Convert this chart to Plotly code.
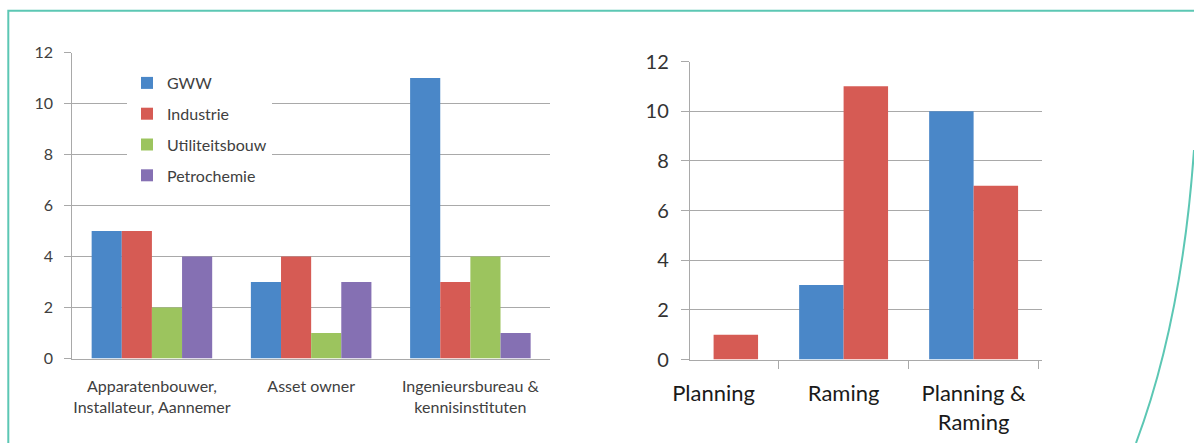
import plotly.graph_objects as go

# ---------------- data ----------------
left_categories = ["Apparatenbouwer,<br>Installateur, Aannemer", "Asset owner",
                   "Ingenieursbureau &<br>kennisinstituten"]
left_names = ["GWW", "Industrie", "Utiliteitsbouw", "Petrochemie"]
gww = [5, 3, 11]
industrie = [5, 4, 3]
utiliteitsbouw = [2, 1, 4]
petrochemie = [4, 3, 1]

right_categories = ["Planning", "Raming", "Planning &<br>Raming"]
right_blue = [0, 3, 10]
right_red = [1, 11, 7]

y_ticks = [0, 2, 4, 6, 8, 10, 12]

# ---------------- style ----------------
W, H = 1194, 443
BLUE = "#4a87c8"
RED = "#d65b54"
GREEN = "#9cc45e"
PURPLE = "#8570b3"
GRID = "#a9a9a9"
TEAL = "#5cc7b4"
FONT = "Lato"


def px(x):
    return x / W


def py(y):
    return 1 - y / H


fig = go.Figure()
left_values = [gww, industrie, utiliteitsbouw, petrochemie]
left_colors = [BLUE, RED, GREEN, PURPLE]
for name, vals, col in zip(left_names, left_values, left_colors):
    fig.add_trace(go.Bar(x=left_categories, y=vals, name=name, marker_color=col,
                         marker_line_width=0, legendgroup=name,
                         xaxis="x", yaxis="y"))

bw = 0.342
fig.add_trace(go.Bar(x=right_categories, y=right_blue, name="blue", marker_color=BLUE,
                     marker_line_width=0, showlegend=False, width=bw, offset=-bw,
                     xaxis="x2", yaxis="y2"))
fig.add_trace(go.Bar(x=right_categories, y=right_red, name="red", marker_color=RED,
                     marker_line_width=0, showlegend=False, width=bw, offset=0,
                     xaxis="x2", yaxis="y2"))

axis_common = dict(showline=True, linecolor=GRID, linewidth=1, zeroline=False,
                   automargin=False)

fig.update_layout(
    template="none",
    width=W, height=H,
    margin=dict(l=0, r=0, t=0, b=0, pad=0, autoexpand=False),
    paper_bgcolor="white", plot_bgcolor="white",
    barmode="group", bargap=0.243, bargroupgap=0,
    font=dict(family=FONT, color="#404040"),
    showlegend=True,
    legend=dict(x=px(127), y=py(66), xanchor="left", yanchor="top",
                bgcolor="white", font=dict(size=16, color="#404040"),
                tracegroupgap=7, itemwidth=30, borderwidth=0),
    xaxis=dict(domain=[px(72.3), px(550)], anchor="y", ticks="",
               tickfont=dict(size=16, color="#404040"), ticklabelstandoff=13,
               showgrid=False, **axis_common),
    yaxis=dict(domain=[py(358.5), py(52.5)], anchor="x", range=[0, 12],
               tickvals=y_ticks, ticks="outside", ticklen=7, tickcolor=GRID,
               showgrid=True, gridcolor=GRID, gridwidth=1,
               tickfont=dict(size=16, color="#404040"), ticklabelstandoff=8,
               **axis_common),
    xaxis2=dict(domain=[px(689.8), px(1042)], anchor="y2", range=[-0.183, 2.526],
                ticks="outside", tickson="boundaries", ticklen=8, tickcolor=GRID,
                tickfont=dict(size=22, color="#1a1a1a"), ticklabelstandoff=14,
                showgrid=False, **axis_common),
    yaxis2=dict(domain=[py(359.5), py(61.5)], anchor="x2", range=[0, 12],
                tickvals=y_ticks, ticks="outside", ticklen=8, tickcolor=GRID,
                showgrid=True, gridcolor=GRID, gridwidth=1,
                tickfont=dict(size=20, color="#333333"), ticklabelstandoff=8,
                **axis_common),
)

# decorative slide frame
frame = f"M {px(8.3)},{py(443)} L {px(8.3)},{py(10.7)} L {px(1194)},{py(10.7)}"
curve = f"M {px(1194)},{py(150)} Q {px(1182)},{py(320)} {px(1136)},{py(443)}"
for path in (frame, curve):
    fig.add_shape(type="path", path=path, xref="paper", yref="paper",
                  line=dict(color=TEAL, width=2), layer="above")

fig.write_html(
    "out.html",
    post_script="document.body.style.margin='0';document.body.style.padding='0';"
                "document.body.style.overflow='hidden';",
)
